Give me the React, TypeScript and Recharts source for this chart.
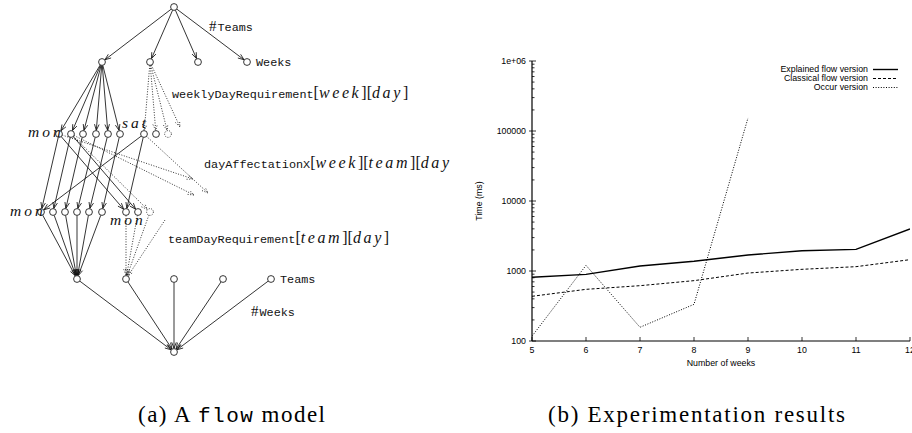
import React from "react";
import {
  ScatterChart,
  Scatter,
  LineChart,
  Line,
  XAxis,
  YAxis,
  ReferenceLine,
  Legend,
} from "recharts";

// ---------- (a) flow model graph ----------
const layerY = [7, 62, 134, 212, 279, 352];
const sourceX = [174];
const weekX = [102, 150, 198, 247];
const dayX = [59, 71, 83, 96, 108, 120, 144, 156, 168];
const teamDayX = [41, 53, 65, 77, 89, 102, 126, 138, 150];
const teamX = [77, 126, 174, 223, 271];
const sinkX = [174];
const layerIds = ["s", "w", "d", "t", "m", "k"];
const openNodes = ["d8", "t8"];

// arrow ends with no node behind them ("and so on")
const looseEnds = [
  { id: "g0", x: 180, y: 127 },
  { id: "g1", x: 193, y: 179 },
  { id: "g2", x: 194, y: 195 },
  { id: "g3", x: 208, y: 193 },
  { id: "g4", x: 165, y: 220 },
];

type Edge = [string, string, "solid" | "dotted"];
const edges: Edge[] = [
  ["s0", "w0", "solid"], ["s0", "w1", "solid"], ["s0", "w2", "solid"], ["s0", "w3", "solid"],
  ["w0", "d0", "solid"], ["w0", "d1", "solid"], ["w0", "d2", "solid"],
  ["w0", "d3", "solid"], ["w0", "d4", "solid"], ["w0", "d5", "solid"],
  ["w1", "d6", "dotted"], ["w1", "d7", "dotted"], ["w1", "d8", "dotted"], ["w1", "g0", "dotted"],
  ["d0", "t0", "solid"], ["d1", "t1", "solid"], ["d2", "t2", "solid"],
  ["d3", "t3", "solid"], ["d4", "t4", "solid"], ["d5", "t5", "solid"],
  ["d0", "t6", "solid"], ["d1", "t7", "solid"], ["d6", "t0", "solid"], ["d6", "t6", "solid"],
  ["d0", "g1", "dotted"], ["d1", "g2", "dotted"], ["d6", "g3", "dotted"], ["d1", "t8", "dotted"],
  ["t0", "m0", "solid"], ["t1", "m0", "solid"], ["t2", "m0", "solid"],
  ["t3", "m0", "solid"], ["t4", "m0", "solid"], ["t5", "m0", "solid"],
  ["t6", "m1", "dotted"], ["t7", "m1", "dotted"], ["t8", "m1", "dotted"], ["g4", "m1", "dotted"],
  ["m0", "k0", "solid"], ["m1", "k0", "solid"], ["m2", "k0", "solid"], ["m3", "k0", "solid"], ["m4", "k0", "solid"],
];

const flowLabels = [
  { x: 209, y: 31, text: "#Teams" },
  { x: 256, y: 66, text: "Weeks" },
  { x: 172, y: 98, text: "weeklyDayRequirement[week][day]" },
  { x: 204, y: 168, text: "dayAffectationX[week][team][day]" },
  { x: 168, y: 243, text: "teamDayRequirement[team][day]" },
  { x: 280, y: 283, text: "Teams" },
  { x: 251, y: 316, text: "#Weeks" },
];
const dayNames = [
  { x: 28, y: 137, text: "mon" },
  { x: 122, y: 128, text: "sat" },
  { x: 10, y: 216, text: "mon" },
  { x: 110, y: 225, text: "mon" },
];

// ---------- (b) experimentation results ----------
const weeks = [5, 6, 7, 8, 9, 10, 11, 12];
const explainedFlow = [813, 895, 1180, 1375, 1695, 1950, 2040, 3980];
const classicalFlow = [435, 547, 617, 728, 935, 1057, 1153, 1452];
const occurVersion = [117, 1205, 157, 334, 153500];
const yMajor = [100, 1000, 10000, 100000, 1000000];
const yMajorLabels = ["100", "1000", "10000", "100000", "1e+06"];
const minorSteps = [2, 3, 4, 5, 6, 7, 8, 9];

const series = [
  { key: "explained", name: "Explained flow version", dash: undefined as string | undefined, width: 1.4 },
  { key: "classical", name: "Classical flow version", dash: "3 2", width: 1 },
  { key: "occur", name: "Occur version", dash: "1 1.6", width: 1 },
];

const SANS = "Liberation Sans";
const SERIF = "Liberation Serif";
const MONO = "Liberation Mono";
const NODE_R = 3.4;

const nodes = [sourceX, weekX, dayX, teamDayX, teamX, sinkX].flatMap((xs, li) =>
  xs.map((x, i) => {
    const id = layerIds[li] + i;
    return { id, x, y: layerY[li], open: openNodes.includes(id) };
  })
);
const points: Record<string, { x: number; y: number; node: boolean }> = {};
nodes.forEach((n) => (points[n.id] = { x: n.x, y: n.y, node: true }));
looseEnds.forEach((g) => (points[g.id] = { x: g.x, y: g.y, node: false }));

const renderEdge = (p: any, trimStart: number, trimEnd: number, dotted: boolean) => {
  const x1 = Number(p.x1), y1 = Number(p.y1), x2 = Number(p.x2), y2 = Number(p.y2);
  const len = Math.hypot(x2 - x1, y2 - y1) || 1;
  const ux = (x2 - x1) / len, uy = (y2 - y1) / len;
  const sx = x1 + ux * trimStart, sy = y1 + uy * trimStart;
  const ex = x2 - ux * trimEnd, ey = y2 - uy * trimEnd;
  const hl = 6, hw = 2.3;
  const bx = ex - ux * hl, by = ey - uy * hl;
  const dash = dotted ? "1 1.6" : undefined;
  return (
    <g>
      <line x1={sx} y1={sy} x2={ex} y2={ey} stroke="#111" strokeWidth={0.85} strokeDasharray={dash} />
      <polyline
        points={`${bx - uy * hw},${by + ux * hw} ${ex},${ey} ${bx + uy * hw},${by - ux * hw}`}
        fill="none"
        stroke="#111"
        strokeWidth={0.85}
        strokeDasharray={dash}
      />
    </g>
  );
};

const renderNode = (p: any) => (
  <circle
    cx={p.cx}
    cy={p.cy}
    r={NODE_R}
    fill="#fff"
    stroke="#111"
    strokeWidth={0.85}
    strokeDasharray={p.payload.open ? "1 1.4" : undefined}
  />
);

// typewriter names with math-style [index] parts
const renderFlowLabel = (p: any) => {
  const parts = String(p.payload.text).split(/([\[\]#])/).filter(Boolean);
  let inside = false;
  return (
    <text x={p.cx} y={p.cy} fill="#111" fontSize={11.8} fontFamily={MONO}>
      {parts.map((s, i) => {
        if (s === "[" || s === "]") {
          inside = s === "[";
          return (
            <tspan key={i} fontFamily={SERIF} fontSize={16}>
              {s}
            </tspan>
          );
        }
        if (s === "#")
          return (
            <tspan key={i} fontFamily={SERIF} fontSize={15} letterSpacing={1}>
              #
            </tspan>
          );
        if (inside)
          return (
            <tspan key={i} fontFamily={SERIF} fontStyle="italic" fontSize={16} letterSpacing={2.6}>
              {s}
            </tspan>
          );
        return <tspan key={i}>{s}</tspan>;
      })}
    </text>
  );
};

const renderDayName = (p: any) => (
  <text x={p.cx} y={p.cy} fill="#111" fontSize={15.5} fontFamily={SERIF} fontStyle="italic" letterSpacing={3}>
    {p.payload.text}
  </text>
);

function FlowModel() {
  return (
    <ScatterChart width={450} height={433} margin={{ top: 0, right: 0, bottom: 0, left: 0 }}>
      <XAxis type="number" dataKey="x" domain={[0, 450]} allowDataOverflow hide />
      <YAxis type="number" dataKey="y" domain={[0, 433]} allowDataOverflow reversed hide />
      {edges.map(([a, b, style], i) => {
        const pa = points[a], pb = points[b];
        return (
          <ReferenceLine
            key={i}
            segment={[{ x: pa.x, y: pa.y }, { x: pb.x, y: pb.y }]}
            ifOverflow="visible"
            shape={(p: any) => renderEdge(p, pa.node ? NODE_R : 0, pb.node ? NODE_R + 0.3 : 0, style === "dotted")}
          />
        );
      })}
      <Scatter data={nodes} shape={renderNode} isAnimationActive={false} />
      <Scatter data={flowLabels} shape={renderFlowLabel} isAnimationActive={false} />
      <Scatter data={dayNames} shape={renderDayName} isAnimationActive={false} />
    </ScatterChart>
  );
}

const yTicks = yMajor.flatMap((v, i) => (i < yMajor.length - 1 ? [v, ...minorSteps.map((m) => v * m)] : [v]));
const rows = weeks.map((w, i) => ({
  week: w,
  explained: explainedFlow[i],
  classical: classicalFlow[i],
  occur: occurVersion[i],
}));

const LeftTick = (p: any) => {
  const v = p.payload.value;
  const axisX = p.x + 6;
  const i = yMajor.indexOf(v);
  if (i < 0) return <line x1={axisX} x2={axisX + 2.5} y1={p.y} y2={p.y} stroke="#000" strokeWidth={0.8} />;
  return (
    <g>
      <line x1={axisX - 3} x2={axisX + 4} y1={p.y} y2={p.y} stroke="#000" strokeWidth={0.8} />
      <text x={p.x} y={p.y + 3} textAnchor="end" fontSize={8.8} fontFamily={SANS} fill="#000">
        {yMajorLabels[i]}
      </text>
    </g>
  );
};
const RightTick = (p: any) => {
  const len = yMajor.includes(p.payload.value) ? 4 : 2.5;
  return <line x1={p.x} x2={p.x - len} y1={p.y} y2={p.y} stroke="#000" strokeWidth={0.8} />;
};
const BottomTick = (p: any) => {
  const axisY = p.y - 5;
  return (
    <g>
      <line x1={p.x} x2={p.x} y1={axisY} y2={axisY - 4} stroke="#000" strokeWidth={0.8} />
      <text x={p.x} y={p.y + 7} textAnchor="middle" fontSize={8.8} fontFamily={SANS} fill="#000">
        {p.payload.value}
      </text>
    </g>
  );
};
const TopTick = (p: any) => <line x1={p.x} x2={p.x} y1={p.y} y2={p.y + 4} stroke="#000" strokeWidth={0.8} />;

const YTitle = (p: any) => {
  const vb = p.viewBox || {};
  const x = vb.x + 12, y = vb.y + vb.height / 2;
  return (
    <text x={x} y={y} transform={`rotate(-90 ${x} ${y})`} textAnchor="middle" fontSize={8.8} fontFamily={SANS} fill="#000">
      Time (ms)
    </text>
  );
};
const XTitle = (p: any) => {
  const vb = p.viewBox || {};
  return (
    <text x={vb.x + vb.width / 2} y={vb.y + 25} textAnchor="middle" fontSize={8.8} fontFamily={SANS} fill="#000">
      Number of weeks
    </text>
  );
};

const KeyBox = () => (
  <div style={{ width: 200, fontFamily: SANS, fontSize: 8.8, color: "#000" }}>
    {series.map((s) => (
      <div key={s.key} style={{ display: "flex", justifyContent: "flex-end", alignItems: "center", height: 9 }}>
        <span style={{ lineHeight: "9px", whiteSpace: "nowrap" }}>{s.name}</span>
        <svg width={25} height={9} style={{ marginLeft: 5 }}>
          <line x1={0} x2={25} y1={4.5} y2={4.5} stroke="#000" strokeWidth={s.width} strokeDasharray={s.dash} />
        </svg>
      </div>
    ))}
  </div>
);

function Results() {
  return (
    <LineChart width={452} height={433} data={rows} margin={{ top: 61, right: 2, bottom: 62, left: 10 }}>
      <XAxis
        dataKey="week"
        type="number"
        domain={[5, 12]}
        ticks={weeks}
        interval={0}
        allowDataOverflow
        height={30}
        tickSize={0}
        tickMargin={5}
        tick={BottomTick}
        axisLine={{ stroke: "#000", strokeWidth: 1.2 }}
        label={<XTitle />}
      />
      <XAxis
        xAxisId="top"
        orientation="top"
        dataKey="week"
        type="number"
        domain={[5, 12]}
        ticks={weeks}
        interval={0}
        allowDataOverflow
        height={0}
        tickSize={0}
        tickMargin={0}
        tick={TopTick}
        axisLine={{ stroke: "#000", strokeWidth: 1.2 }}
      />
      <YAxis
        scale="log"
        type="number"
        domain={[100, 1000000]}
        ticks={yTicks}
        interval={0}
        allowDataOverflow
        width={62}
        tickSize={0}
        tickMargin={6}
        tick={LeftTick}
        axisLine={{ stroke: "#000", strokeWidth: 1.2 }}
        label={<YTitle />}
      />
      <YAxis
        yAxisId="right"
        orientation="right"
        scale="log"
        type="number"
        domain={[100, 1000000]}
        ticks={yTicks}
        interval={0}
        allowDataOverflow
        width={0}
        tickSize={0}
        tickMargin={0}
        tick={RightTick}
        axisLine={{ stroke: "#000", strokeWidth: 1.2 }}
      />
      <Legend
        layout="vertical"
        align="center"
        verticalAlign="middle"
        content={<KeyBox />}
        wrapperStyle={{ position: "absolute", top: 64.5, left: 238, width: 200, height: 27 }}
      />
      {series.map((s) => (
        <Line
          key={s.key}
          dataKey={s.key}
          name={s.name}
          type="linear"
          stroke="#000"
          strokeWidth={s.width}
          strokeDasharray={s.dash}
          dot={false}
          activeDot={false}
          isAnimationActive={false}
        />
      ))}
    </LineChart>
  );
}

export default function App() {
  return (
    <div style={{ position: "absolute", left: 0, top: 0, width: 912, height: 433, background: "#fff", overflow: "hidden" }}>
      <div style={{ position: "absolute", left: 0, top: 0 }}>
        <FlowModel />
      </div>
      <div style={{ position: "absolute", left: 460, top: 0 }}>
        <Results />
      </div>
      <svg width={912} height={433} style={{ position: "absolute", left: 0, top: 0, pointerEvents: "none" }}>
        <text x={138} y={422} textLength={187} lengthAdjust="spacing" fontFamily={SERIF} fontSize={23} fill="#000">
          (a) A <tspan fontFamily={MONO} fontSize={21}>flow</tspan> model
        </text>
        <text x={548} y={422} textLength={297} lengthAdjust="spacing" fontFamily={SERIF} fontSize={23} fill="#000">
          (b) Experimentation results
        </text>
      </svg>
    </div>
  );
}
